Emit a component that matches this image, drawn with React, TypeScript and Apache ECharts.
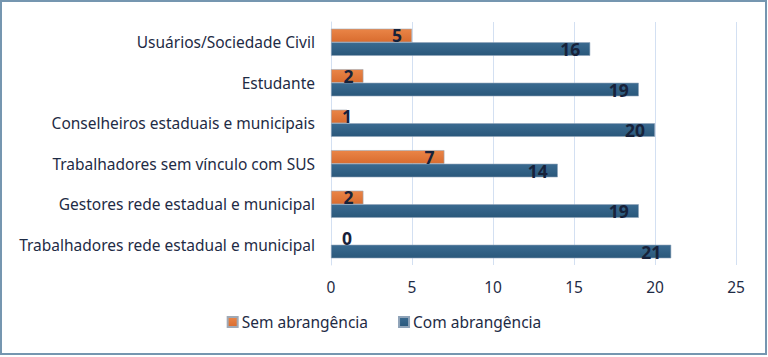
import React, { useEffect, useRef } from "react";
import * as echarts from "echarts";

const categories = [
  "Usuários/Sociedade Civil",
  "Estudante",
  "Conselheiros estaduais e municipais",
  "Trabalhadores sem vínculo com SUS",
  "Gestores rede estadual e municipal",
  "Trabalhadores rede estadual e municipal",
];
const semAbrangencia = [5, 2, 1, 7, 2, 0];
const comAbrangencia = [16, 19, 20, 14, 19, 21];
const seriesNames = ["Sem abrangência", "Com abrangência"];

const FONT = "'Noto Sans', sans-serif";
const TEXT = "#1e2b45";

function labelData(values: number[]) {
  return values.map((v) => {
    if (v === 0)
      return {
        value: v,
        itemStyle: { borderWidth: 0 },
        label: { position: "insideLeft", distance: 11 },
      };
    if (v < 2) return { value: v, label: { position: "insideLeft", distance: 11 } };
    return { value: v };
  });
}

export default function App() {
  const ref = useRef<HTMLDivElement>(null);
  useEffect(() => {
    document.body.style.margin = "0";
    const chart = echarts.init(ref.current!, null, { renderer: "svg" });
    const barLabel = {
      show: true,
      position: "insideRight",
      distance: 10,
      color: "#17223a",
      fontSize: 17.5,
      fontWeight: "bold",
      fontFamily: FONT,
    };
    chart.setOption({
      animation: false,
      backgroundColor: "#ffffff",
      textStyle: { fontFamily: FONT },
      grid: { left: 331, right: 32, top: 22, bottom: 92 },
      graphic: [
        {
          type: "rect",
          shape: { x: 1, y: 1, width: 765, height: 353 },
          style: { fill: "none", stroke: "#7596b0", lineWidth: 2 },
          silent: true,
        },
      ],
      legend: {
        data: seriesNames,
        bottom: 22,
        left: "center",
        itemWidth: 10,
        itemHeight: 10,
        itemGap: 30,
        icon: "rect",
        textStyle: { color: TEXT, fontSize: 15.5, fontFamily: FONT, padding: [0, 0, 0, -1] },
      },
      xAxis: {
        type: "value",
        min: 0,
        max: 25,
        interval: 5,
        axisLine: { show: false },
        axisTick: { show: false },
        axisLabel: { color: TEXT, fontSize: 15.5, margin: 14, fontFamily: FONT },
        splitLine: { lineStyle: { color: "#d3e0f2", width: 1 } },
      },
      yAxis: {
        type: "category",
        data: categories,
        inverse: true,
        axisLine: { show: true, lineStyle: { color: "#d3e0f2" } },
        axisTick: { show: false },
        axisLabel: { color: TEXT, fontSize: 15.5, margin: 16, fontFamily: FONT },
      },
      series: [
        {
          name: seriesNames[0],
          type: "bar",
          data: labelData(semAbrangencia),
          barGap: "0%",
          barCategoryGap: "33%",
          itemStyle: {
            color: new echarts.graphic.LinearGradient(0, 0, 0, 1, [
              { offset: 0, color: "#ea8547" },
              { offset: 1, color: "#d96c2f" },
            ]),
            borderColor: "#a0a9b5",
            borderWidth: 0.6,
          },
          label: barLabel,
        },
        {
          name: seriesNames[1],
          type: "bar",
          data: labelData(comAbrangencia),
          barGap: "0%",
          barCategoryGap: "33%",
          itemStyle: {
            color: new echarts.graphic.LinearGradient(0, 0, 0, 1, [
              { offset: 0, color: "#3a6a90" },
              { offset: 1, color: "#2a587b" },
            ]),
            borderColor: "#8fa3b8",
            borderWidth: 0.6,
          },
          label: barLabel,
        },
      ],
    });
    return () => chart.dispose();
  }, []);
  return (
    <div
      ref={ref}
      style={{ position: "absolute", left: 0, top: 0, width: 768, height: 357 }}
    />
  );
}
